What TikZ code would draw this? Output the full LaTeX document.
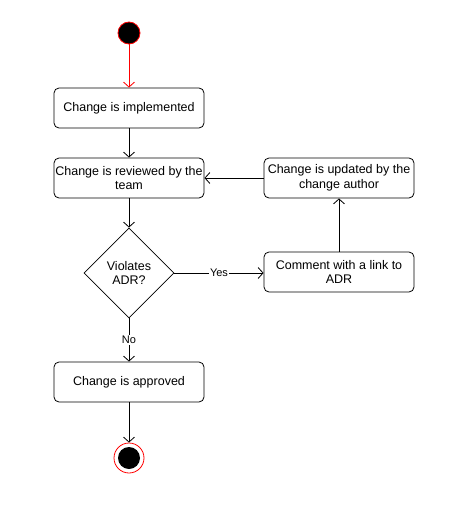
\documentclass[tikz,border=0pt]{standalone}
\usepackage{fontspec}
\setmainfont{Liberation Sans}
\usetikzlibrary{arrows.meta,shapes.geometric}
\tikzset{
  act/.style={draw, rounded corners=5pt, minimum width=150pt, minimum height=40pt, align=center, font=\fontsize{12.5}{14.5}\selectfont, inner sep=0pt, line width=0.8pt},
  dec/.style={draw, diamond, minimum width=90pt, minimum height=90pt, inner sep=0pt, align=center, font=\fontsize{12.5}{14.5}\selectfont, line width=0.8pt},
  flow/.style={draw, line width=0.8pt, -{Straight Barb[length=5pt,width=11pt]}},
  lbl/.style={fill=white, inner sep=1pt, font=\fontsize{11}{13}\selectfont},
}
\begin{document}
\begin{tikzpicture}[x=1pt,y=-1pt]
\useasboundingbox (0,0) rectangle (467,514);
\node[circle, fill=black, draw=red, line width=0.8pt, minimum size=22pt, inner sep=0pt] (start) at (129,33) {};
\node[act] (impl) at (129,108) {Change is implemented};
\node[act] (rev) at (129,178) {Change is reviewed by the\\team};
\node[dec] (dia) at (129,273) {Violates\\ADR?};
\node[act] (upd) at (339,178) {Change is updated by the\\change author};
\node[act] (com) at (339,272) {Comment with a link to\\ADR};
\node[act] (appr) at (129,382) {Change is approved};
\node[circle, draw=red, fill=white, line width=0.8pt, minimum size=30pt, inner sep=0pt] (end) at (129,458) {};
\node[circle, fill=black, minimum size=22pt, inner sep=0pt] (endin) at (end.center) {};
\draw[flow, draw=red] (start) -- (impl);
\draw[flow] (impl) -- (rev);
\draw[flow] (rev) -- (dia);
\draw[flow] (dia.east) -- node[lbl, pos=0.5]{Yes} (dia.east -| com.west);
\draw[flow] (com) -- (upd);
\draw[flow] (upd) -- (rev);
\draw[flow] (dia) -- node[lbl]{No} (appr);
\draw[flow] (appr) -- (end);
\end{tikzpicture}
\end{document}
